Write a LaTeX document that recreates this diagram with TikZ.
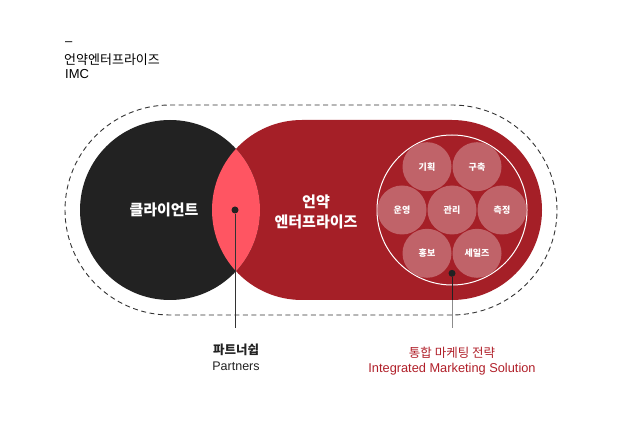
\documentclass[tikz,border=0pt]{standalone}
\usepackage{fontspec}
\setmainfont{Liberation Sans}
\newfontfamily\kr{Noto Sans CJK KR}
\usetikzlibrary{positioning}
\definecolor{inkblack}{HTML}{222222}
\definecolor{brandred}{HTML}{A51F27}
\definecolor{lensred}{HTML}{FF5562}
\definecolor{petal}{HTML}{C06369}
\definecolor{textred}{HTML}{B01F29}
\tikzset{
  hull/.style={dashed,dash pattern=on 5pt off 3.5pt,draw=black!80,line width=0.9pt},
  petalc/.style={circle,fill=petal,minimum size=49pt,inner sep=0pt,text=white,font=\kr\fontsize{9}{10}\selectfont\bfseries},
  bigtxt/.style={text=white,align=center,font=\kr\fontsize{15}{20}\selectfont\bfseries},
  pin/.style={circle,fill=inkblack,minimum size=7pt,inner sep=0pt},
  lead/.style={line width=0.9pt}
}
\begin{document}
\begin{tikzpicture}[x=1pt,y=1pt]
\useasboundingbox (0,0) rectangle (620,420);
% header
\node[anchor=west,inner sep=0pt,font=\fontsize{13}{14}\selectfont] (dash) at (65,376) {--};
\node[anchor=west,inner sep=0pt,font=\kr\fontsize{13}{14}\selectfont] (hname) at (64,360) {언약엔터프라이즈};
\node[anchor=west,inner sep=0pt,font=\fontsize{13}{14}\selectfont] (himc) at (65,346) {IMC};
% outline and shapes
\draw[hull] (170,315) -- (452,315) arc[start angle=90,end angle=-90,radius=105] -- (170,105) arc[start angle=270,end angle=90,radius=105] -- cycle;
\fill[brandred] (302,300) -- (452,300) arc[start angle=90,end angle=-90,radius=90] -- (302,120) arc[start angle=270,end angle=90,radius=90] -- cycle;
\fill[inkblack] (170,210) circle (90);
\begin{scope}
\clip (170,210) circle (90);
\fill[lensred] (302,210) circle (90);
\end{scope}
\draw[white,line width=1pt] (452,210) circle (75);
% labels
\node[bigtxt] (client) at (164,210) {클라이언트};
\node[bigtxt] (firm) at (316,208) {언약\\엔터프라이즈};
% petals
\node[petalc] (plan) at (427,253.3) {기획};
\node[petalc] (build) at (477,253.3) {구축};
\node[petalc] (ops) at (402,210) {운영};
\node[petalc] (mgmt) at (452,210) {관리};
\node[petalc] (meas) at (502,210) {측정};
\node[petalc] (promo) at (427,166.7) {홍보};
\node[petalc] (sales) at (477,166.7) {세일즈};
% leads
\node[pin] (pdot) at (235,210) {};
\node[pin] (mdot) at (452,146.7) {};
\coordinate (pend) at (235,92);
\coordinate (mend) at (452,92);
\draw[lead,black!80] (pdot) -- (pend);
\draw[lead,inkblack] (mdot) -- (452,120);
\draw[lead,black!45] (452,120) -- (mend);
\node[font=\kr\fontsize{12.5}{14}\selectfont\bfseries,text=inkblack] (ptitle) at (236,70) {파트너쉽};
\node[font=\fontsize{12.5}{14}\selectfont,text=inkblack] (psub) at (236,54) {Partners};
\node[font=\kr\fontsize{12.5}{14}\selectfont,text=textred] (mtitle) at (452,67) {통합 마케팅 전략};
\node[font=\fontsize{12.8}{14}\selectfont,text=textred] (msub) at (452,51) {Integrated Marketing Solution};
\end{tikzpicture}
\end{document}
